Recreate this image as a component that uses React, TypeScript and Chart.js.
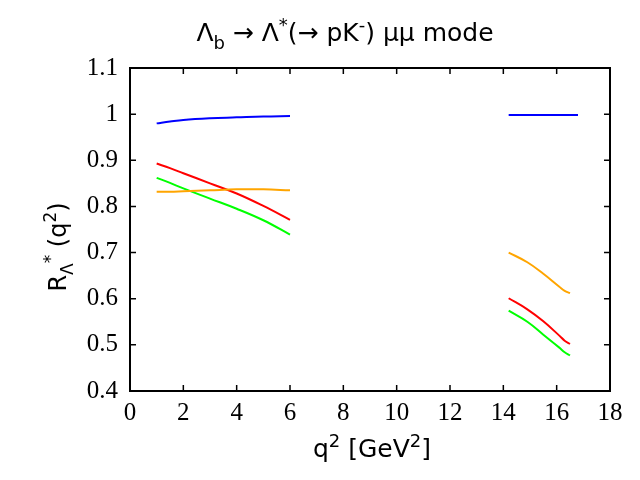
import { useEffect, useRef } from "react";
import { Chart, registerables } from "chart.js";

Chart.register(...registerables);

// q^2 points (GeV^2) for the low and high windows
const qLow = [1, 1.5, 2, 3, 4, 5, 6];
const qHigh = [14.2, 14.9, 15.5, 16.1, 16.3, 16.5];
const qHighBlue = [14.2, 15, 16, 16.8];

const blueLow = [0.98, 0.984, 0.9875, 0.991, 0.993, 0.995, 0.996];
const redLow = [0.893, 0.883, 0.872, 0.85, 0.828, 0.801, 0.771];
const greenLow = [0.862, 0.851, 0.839, 0.817, 0.795, 0.77, 0.739];
const orangeLow = [0.832, 0.832, 0.833, 0.835, 0.837, 0.837, 0.835];

const blueHigh = [0.998, 0.998, 0.998, 0.998];
const redHigh = [0.601, 0.577, 0.551, 0.52, 0.509, 0.502];
const greenHigh = [0.574, 0.55, 0.522, 0.494, 0.484, 0.477];
const orangeHigh = [0.7, 0.679, 0.654, 0.626, 0.617, 0.612];

const xTicks = [0, 2, 4, 6, 8, 10, 12, 14, 16, 18];
const yTicks = [0.4, 0.5, 0.6, 0.7, 0.8, 0.9, 1, 1.1];

type Seg = { t: string; s?: "sub" | "sup" };

const SANS = "'DejaVu Sans'";
const SERIF = "'Liberation Serif'";

function segFont(size: number, s?: string) {
  return `${s ? Math.round(size * 0.72) : size}px ${SANS}`;
}

function drawRich(ctx: CanvasRenderingContext2D, segs: Seg[], x: number, y: number, size: number) {
  let w = 0;
  for (const g of segs) {
    ctx.font = segFont(size, g.s);
    w += ctx.measureText(g.t).width;
  }
  let cx = x - w / 2;
  ctx.textAlign = "left";
  ctx.textBaseline = "alphabetic";
  for (const g of segs) {
    ctx.font = segFont(size, g.s);
    const dy = g.s === "sub" ? size * 0.3 : g.s === "sup" ? -size * 0.42 : 0;
    ctx.fillText(g.t, cx, y + dy);
    cx += ctx.measureText(g.t).width;
  }
}

const titleSegs: Seg[] = [
  { t: "Λ" }, { t: "b", s: "sub" }, { t: " → Λ" }, { t: "*", s: "sup" },
  { t: "(→ pK" }, { t: "-", s: "sup" }, { t: ") μμ mode" },
];
const xLabelSegs: Seg[] = [{ t: "q" }, { t: "2", s: "sup" }, { t: " [GeV" }, { t: "2", s: "sup" }, { t: "]" }];
const yLabelSegs: Seg[] = [{ t: "R" }, { t: "Λ", s: "sub" }, { t: "*", s: "sup" }, { t: " (q" }, { t: "2", s: "sup" }, { t: ")" }];

const framePlugin = {
  id: "frame",
  afterDraw(chart: any) {
    const { ctx, chartArea: a, scales } = chart;
    ctx.save();
    ctx.strokeStyle = "#000";
    ctx.lineWidth = 1.5;
    ctx.beginPath();
    for (const v of xTicks) {
      const px = scales.x.getPixelForValue(v);
      ctx.moveTo(px, a.bottom);
      ctx.lineTo(px, a.bottom - 6);
      ctx.moveTo(px, a.top);
      ctx.lineTo(px, a.top + 6);
    }
    for (const v of yTicks) {
      const py = scales.y.getPixelForValue(v);
      ctx.moveTo(a.left, py);
      ctx.lineTo(a.left + 6, py);
      ctx.moveTo(a.right, py);
      ctx.lineTo(a.right - 6, py);
    }
    ctx.stroke();
    ctx.lineWidth = 2;
    ctx.strokeRect(a.left, a.top, a.right - a.left, a.bottom - a.top);

    ctx.fillStyle = "#000";
    drawRich(ctx, titleSegs, 345, 41, 25);
    drawRich(ctx, xLabelSegs, 372, 457, 25);
    ctx.translate(66, 247);
    ctx.rotate(-Math.PI / 2);
    drawRich(ctx, yLabelSegs, 0, 0, 24);
    ctx.restore();
  },
};

function pts(xs: number[], ys: number[]) {
  return xs.map((x, i) => ({ x, y: ys[i] }));
}

function line(data: { x: number; y: number }[], color: string) {
  return {
    data,
    borderColor: color,
    backgroundColor: color,
    borderWidth: 2,
    pointRadius: 0,
    showLine: true,
    tension: 0.4,
  };
}

export default function App() {
  const ref = useRef<HTMLCanvasElement>(null);

  useEffect(() => {
    if (!ref.current) return;
    const chart = new Chart(ref.current, {
      type: "scatter",
      data: {
        datasets: [
          line(pts(qLow, blueLow), "#0000ff"),
          line(pts(qHighBlue, blueHigh), "#0000ff"),
          line(pts(qLow, orangeLow), "#ffa500"),
          line(pts(qHigh, orangeHigh), "#ffa500"),
          line(pts(qLow, redLow), "#ff0000"),
          line(pts(qHigh, redHigh), "#ff0000"),
          line(pts(qLow, greenLow), "#00ff00"),
          line(pts(qHigh, greenHigh), "#00ff00"),
        ],
      },
      options: {
        animation: false,
        responsive: false,
        layout: { padding: { top: 68, right: 30, left: 0, bottom: 0 } },
        plugins: {
          legend: { display: false },
          title: { display: false },
          tooltip: { enabled: false },
        },
        scales: {
          x: {
            type: "linear",
            min: 0,
            max: 18,
            afterFit: (s: any) => { s.height = 89; },
            afterBuildTicks: (s: any) => { s.ticks = xTicks.map((v) => ({ value: v })); },
            grid: { display: false, drawTicks: false },
            border: { display: false },
            ticks: {
              color: "#000",
              padding: 7,
              font: { family: SERIF, size: 25 },
            },
          },
          y: {
            type: "linear",
            min: 0.4,
            max: 1.1,
            afterFit: (s: any) => { s.width = 130; },
            afterBuildTicks: (s: any) => { s.ticks = yTicks.map((v) => ({ value: v })); },
            grid: { display: false, drawTicks: false },
            border: { display: false },
            ticks: {
              color: "#000",
              padding: 12,
              font: { family: SERIF, size: 25 },
              callback: (v: any) => String(Number(Number(v).toFixed(1))),
            },
          },
        },
      },
      plugins: [framePlugin],
    });
    return () => chart.destroy();
  }, []);

  return (
    <div style={{ position: "fixed", left: 0, top: 0, width: 640, height: 480, background: "#fff" }}>
      <canvas ref={ref} width={640} height={480} style={{ width: 640, height: 480 }} />
    </div>
  );
}
